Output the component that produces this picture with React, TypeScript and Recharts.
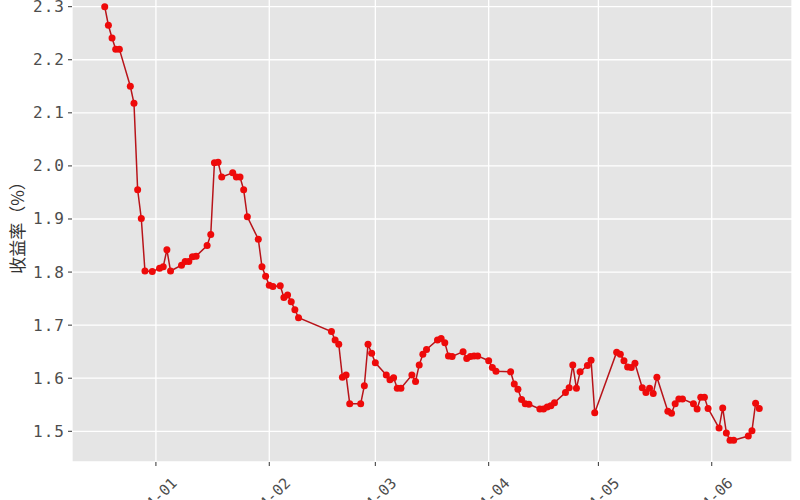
import React from "react";
import { ComposedChart, Line, XAxis, YAxis, CartesianGrid } from "recharts";

const dates = [
  "2023-12-18", "2023-12-19", "2023-12-20", "2023-12-21", "2023-12-22", "2023-12-25",
  "2023-12-26", "2023-12-27", "2023-12-28", "2023-12-29", "2023-12-31", "2024-01-02",
  "2024-01-03", "2024-01-04", "2024-01-05", "2024-01-08", "2024-01-09", "2024-01-10",
  "2024-01-11", "2024-01-12", "2024-01-15", "2024-01-16", "2024-01-17", "2024-01-18",
  "2024-01-19", "2024-01-22", "2024-01-23", "2024-01-24", "2024-01-25", "2024-01-26",
  "2024-01-29", "2024-01-30", "2024-01-31", "2024-02-01", "2024-02-02", "2024-02-04",
  "2024-02-05", "2024-02-06", "2024-02-07", "2024-02-08", "2024-02-09", "2024-02-18",
  "2024-02-19", "2024-02-20", "2024-02-21", "2024-02-22", "2024-02-23", "2024-02-26",
  "2024-02-27", "2024-02-28", "2024-02-29", "2024-03-01", "2024-03-04", "2024-03-05",
  "2024-03-06", "2024-03-07", "2024-03-08", "2024-03-11", "2024-03-12", "2024-03-13",
  "2024-03-14", "2024-03-15", "2024-03-18", "2024-03-19", "2024-03-20", "2024-03-21",
  "2024-03-22", "2024-03-25", "2024-03-26", "2024-03-27", "2024-03-28", "2024-03-29",
  "2024-04-01", "2024-04-02", "2024-04-03", "2024-04-07", "2024-04-08", "2024-04-09",
  "2024-04-10", "2024-04-11", "2024-04-12", "2024-04-15", "2024-04-16", "2024-04-17",
  "2024-04-18", "2024-04-19", "2024-04-22", "2024-04-23", "2024-04-24", "2024-04-25",
  "2024-04-26", "2024-04-28", "2024-04-29", "2024-04-30", "2024-05-06", "2024-05-07",
  "2024-05-08", "2024-05-09", "2024-05-10", "2024-05-11", "2024-05-13", "2024-05-14",
  "2024-05-15", "2024-05-16", "2024-05-17", "2024-05-20", "2024-05-21", "2024-05-22",
  "2024-05-23", "2024-05-24", "2024-05-27", "2024-05-28", "2024-05-29", "2024-05-30",
  "2024-05-31", "2024-06-03", "2024-06-04", "2024-06-05", "2024-06-06", "2024-06-07",
  "2024-06-11", "2024-06-12", "2024-06-13", "2024-06-14",
];

const yields = [
  2.300, 2.265, 2.241, 2.220, 2.220, 2.150,
  2.118, 1.955, 1.901, 1.802, 1.801, 1.807,
  1.810, 1.842, 1.802, 1.813, 1.820, 1.820,
  1.829, 1.830, 1.850, 1.871, 2.006, 2.007,
  1.979, 1.987, 1.979, 1.979, 1.955, 1.904,
  1.862, 1.810, 1.792, 1.775, 1.773, 1.774,
  1.752, 1.757, 1.744, 1.729, 1.714, 1.688,
  1.672, 1.664, 1.602, 1.606, 1.552, 1.552,
  1.586, 1.664, 1.647, 1.629, 1.606, 1.597,
  1.601, 1.581, 1.581, 1.606, 1.594, 1.625,
  1.645, 1.654, 1.672, 1.675, 1.667, 1.642,
  1.641, 1.650, 1.637, 1.641, 1.642, 1.642,
  1.633, 1.620, 1.613, 1.612, 1.589, 1.579,
  1.560, 1.552, 1.551, 1.542, 1.542, 1.546,
  1.548, 1.554, 1.573, 1.582, 1.625, 1.581,
  1.612, 1.624, 1.634, 1.535, 1.649, 1.645,
  1.633, 1.621, 1.620, 1.628, 1.582, 1.573,
  1.581, 1.571, 1.602, 1.538, 1.534, 1.552,
  1.561, 1.561, 1.552, 1.542, 1.564, 1.564,
  1.543, 1.506, 1.544, 1.497, 1.483, 1.483,
  1.491, 1.501, 1.553, 1.543,
];

const monthTicks = ["2024-01-01", "2024-02-01", "2024-03-01", "2024-04-01", "2024-05-01", "2024-06-01"];
const yTicks = [1.5, 1.6, 1.7, 1.8, 1.9, 2.0, 2.1, 2.2, 2.3];
const yTitle = "收益率（%）";

const data = dates.map((d, i) => ({ t: Date.parse(d), v: yields[i] }));
const tMin = data[0].t;
const tMax = data[data.length - 1].t;
const tPad = (tMax - tMin) * 0.05;
const vMin = Math.min(...yields);
const vMax = Math.max(...yields);
const vPad = (vMax - vMin) * 0.05;
const xTickValues = monthTicks.map((m) => Date.parse(m));

const FONT = "'DejaVu Sans Mono', 'Noto Sans CJK SC', monospace";

const fmtMonth = (t: number) => {
  const d = new Date(t);
  const m = d.getUTCMonth() + 1;
  return `${d.getUTCFullYear()}-${m < 10 ? "0" + m : m}`;
};

const XTick = (props: any) => {
  const { x, y, payload } = props;
  const px = x + 22;
  const py = y + 16;
  return (
    <text
      x={px}
      y={py}
      textAnchor="end"
      transform={`rotate(-45 ${px} ${py})`}
      fontSize={15}
      fontFamily={FONT}
      fill="#4D4D4D"
    >
      {fmtMonth(payload.value)}
    </text>
  );
};

const YTick = (props: any) => {
  const { x, y, payload } = props;
  return (
    <text
      x={x - 1}
      y={y + 5.5}
      textAnchor="end"
      fontSize={16}
      letterSpacing={1}
      fontFamily={FONT}
      fill="#4D4D4D"
    >
      {payload.value.toFixed(1)}
    </text>
  );
};

const YTitle = (props: any) => {
  const { viewBox } = props;
  const cx = 16;
  const cy = viewBox.y + viewBox.height / 2;
  return (
    <text
      x={cx}
      y={cy}
      textAnchor="middle"
      dominantBaseline="central"
      transform={`rotate(-90 ${cx} ${cy})`}
      fontSize={17}
      fontFamily="'Noto Sans CJK SC', sans-serif"
      fill="#333333"
    >
      {yTitle}
    </text>
  );
};

export default function App() {
  return (
    <div style={{ position: "absolute", left: 0, top: -15, width: 800, height: 515, background: "#fff" }}>
      <ComposedChart width={800} height={515} data={data} margin={{ top: 0, right: 8, bottom: 0, left: 0 }}>
        <CartesianGrid stroke="#FFFFFF" strokeWidth={1.3} fill="#E5E5E5" />
        <XAxis
          dataKey="t"
          type="number"
          scale="linear"
          domain={[tMin - tPad, tMax + tPad]}
          ticks={xTickValues}
          allowDataOverflow
          axisLine={false}
          tickLine={{ stroke: "#333333" }}
          tickSize={4}
          tickMargin={2}
          height={38}
          tick={<XTick />}
          interval={0}
        />
        <YAxis
          type="number"
          domain={[vMin - vPad, vMax + vPad]}
          ticks={yTicks}
          allowDataOverflow
          axisLine={false}
          tickLine={{ stroke: "#333333" }}
          tickSize={4}
          tickMargin={2}
          width={72}
          tick={<YTick />}
          interval={0}
          label={<YTitle />}
        />
        <Line
          type="linear"
          dataKey="v"
          stroke="#B8141A"
          strokeWidth={1.5}
          dot={{ r: 3.5, fill: "#EE0A0A", stroke: "none" }}
          isAnimationActive={false}
        />
      </ComposedChart>
    </div>
  );
}
